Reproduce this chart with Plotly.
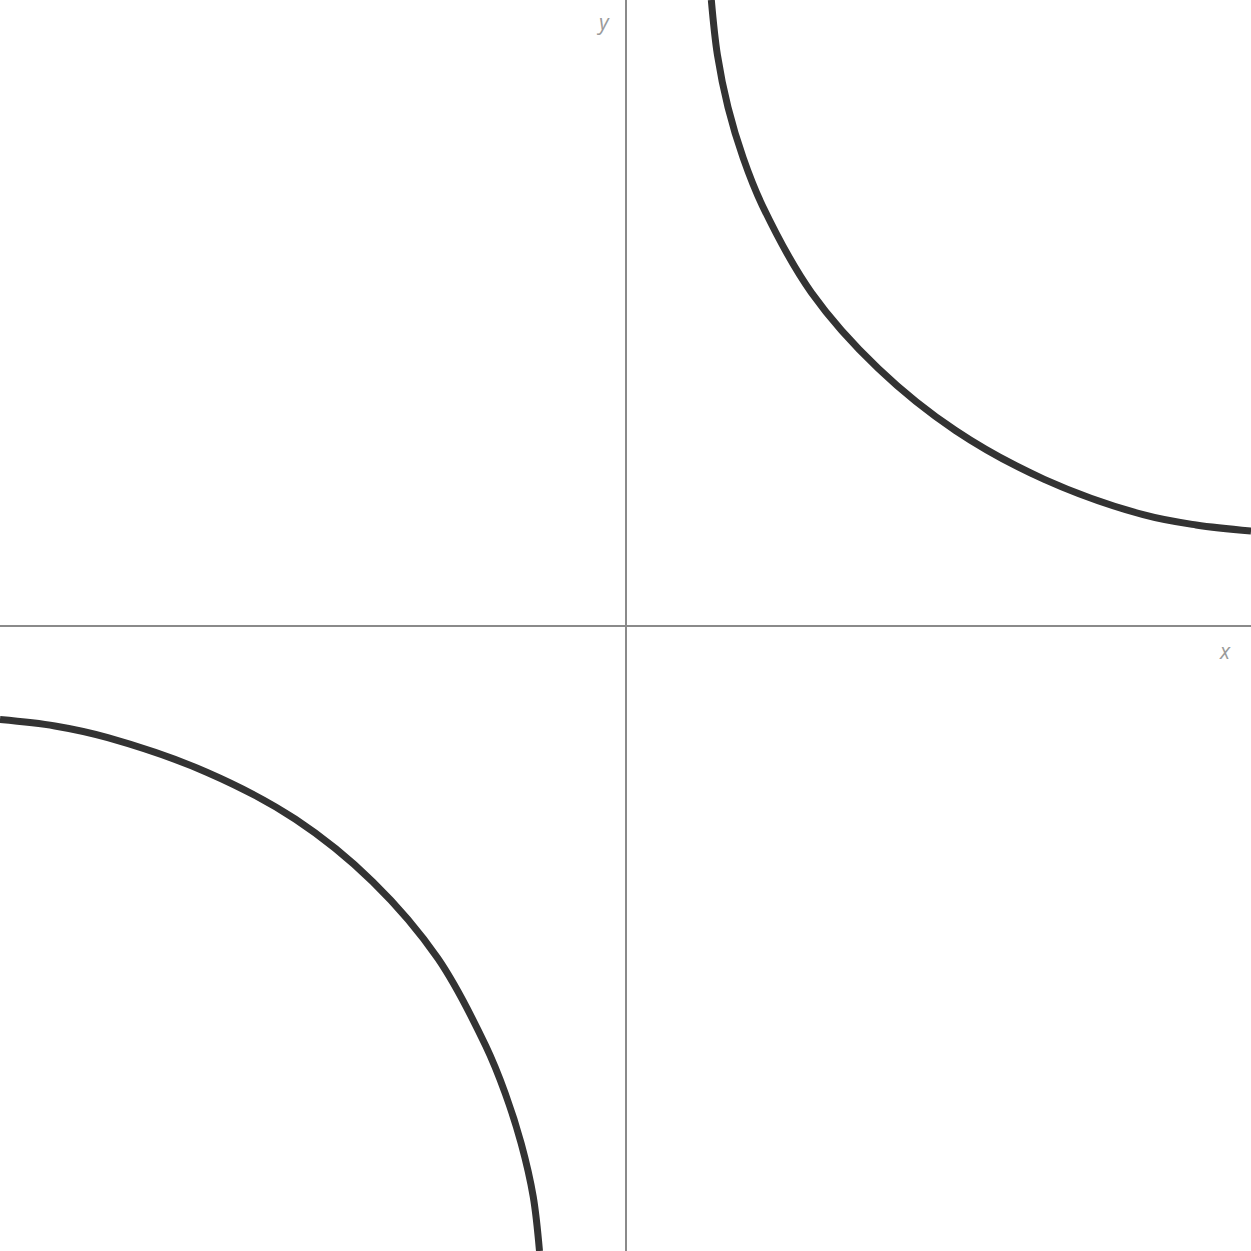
import plotly.graph_objects as go

# Upper-right branch
upper_x = [1.372, 1.469, 1.639, 1.880, 2.187, 2.974, 4.042, 5.276, 6.695, 8.277, 9.122, 10.0]
upper_y = [10.0, 9.124, 8.283, 7.480, 6.716, 5.321, 4.109, 3.118, 2.337, 1.771, 1.607, 1.511]

# Lower-left branch
lower_x = [-10.0, -9.122, -8.277, -6.695, -5.276, -4.042, -3.001, -2.237, -1.923, -1.667, -1.476, -1.375]
lower_y = [-1.504, -1.607, -1.794, -2.345, -3.098, -4.096, -5.321, -6.716, -7.480, -8.283, -9.127, -10.0]

axis_range = [-10, 10]
x_label = "x"
y_label = "y"

line_style = dict(color="#333333", width=7, shape="spline", smoothing=1.0)

fig = go.Figure()
fig.add_trace(go.Scatter(x=upper_x, y=upper_y, mode="lines", line=line_style,
                         hoverinfo="skip", showlegend=False))
fig.add_trace(go.Scatter(x=lower_x, y=lower_y, mode="lines", line=line_style,
                         hoverinfo="skip", showlegend=False))

axis_common = dict(range=axis_range, showgrid=False, zeroline=True,
                   zerolinecolor="#8a8a8a", zerolinewidth=2, showticklabels=False,
                   ticks="", showline=False, fixedrange=True)
fig.update_layout(
    width=1251, height=1251,
    margin=dict(l=0, r=0, t=0, b=0),
    paper_bgcolor="white", plot_bgcolor="white",
    xaxis=axis_common, yaxis=axis_common,
    annotations=[
        dict(x=-0.36, y=9.65, xref="x", yref="y", text="<i>" + y_label + "</i>",
             showarrow=False, font=dict(family="Open Sans", size=21, color="#9a9a9a")),
        dict(x=9.58, y=-0.41, xref="x", yref="y", text="<i>" + x_label + "</i>",
             showarrow=False, font=dict(family="Open Sans", size=21, color="#9a9a9a")),
    ],
)

fig.write_html("out.html", config={"displayModeBar": False},
               post_script="document.body.style.margin='0';")
